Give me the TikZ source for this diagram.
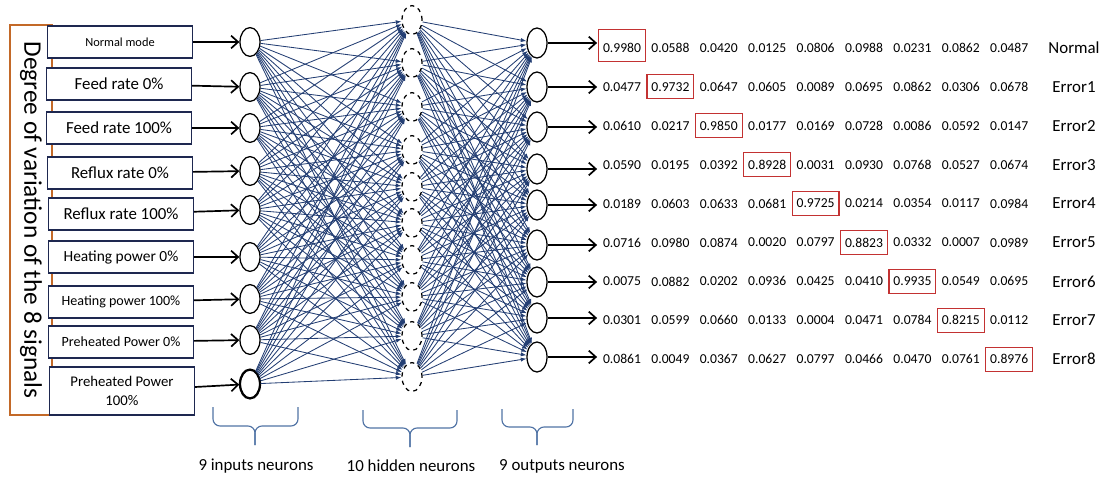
\documentclass[tikz,border=0pt]{standalone}
\usepackage{fontspec}
\setmainfont{Carlito}
\usetikzlibrary{arrows.meta, positioning, shapes.geometric}
\usepackage{xcolor}
\definecolor{navy}{RGB}{30,40,80}
\definecolor{wireblue}{RGB}{35,62,115}
\definecolor{brick}{RGB}{195,50,50}
\definecolor{rust}{RGB}{195,105,40}
\definecolor{steel}{RGB}{80,115,165}

\begin{document}
\begin{tikzpicture}[x=0.025cm, y=-0.025cm,
  sig/.style={draw=navy, line width=1.1pt, fill=white, minimum width=3.62cm,
  minimum height=0.8cm, inner sep=1pt, align=center},
  neuron/.style={draw, ellipse, line width=0.9pt, minimum width=0.5cm,
  minimum height=0.72cm, inner sep=0pt},
  hidden/.style={neuron, dashed},
  feed/.style={-{Straight Barb[length=5pt,width=9pt]}, line width=1.2pt},
  link/.style={-{Latex[length=4pt,width=3pt]}, wireblue, line width=0.6pt},
  val/.style={font=\fontsize{9.7}{11}\selectfont, inner sep=1pt},
  win/.style={draw=brick, line width=0.8pt, minimum width=1.17cm, minimum height=0.6cm},
  cls/.style={font=\fontsize{12}{14}\selectfont},
  brc/.style={steel, line width=0.8pt, rounded corners=5pt},
  layercap/.style={font=\fontsize{12}{14}\selectfont}
]
\useasboundingbox (0,0) rectangle (1104,479);

\node[draw=rust, line width=1.2pt, rotate=-90, minimum width=9.75cm, minimum height=1.05cm,
  font=\fontsize{18}{20}\selectfont] (frame) at (31,220) {Degree of variation of the 8 signals};

\node[sig, font=\fontsize{8.8}{10}\selectfont] (b1) at (120,42) {Normal mode};
\node[sig, font=\fontsize{12}{14}\selectfont] (b2) at (119,84) {Feed rate 0\%};
\node[sig, font=\fontsize{12}{14}\selectfont] (b3) at (119,128) {Feed rate 100\%};
\node[sig, font=\fontsize{12}{14}\selectfont] (b4) at (120,173) {Reflux rate 0\%};
\node[sig, font=\fontsize{12}{14}\selectfont] (b5) at (121,214) {Reflux rate 100\%};
\node[sig, font=\fontsize{11}{13}\selectfont] (b6) at (121,257) {Heating power 0\%};
\node[sig, font=\fontsize{10}{12}\selectfont] (b7) at (121,302) {Heating power 100\%};
\node[sig, font=\fontsize{10}{12}\selectfont] (b8) at (121,342) {Preheated Power 0\%};
\node[sig, font=\fontsize{10.5}{14}\selectfont, minimum height=1.2cm] (b9) at (122,391) {Preheated Power\\100\%};

\foreach \y [count=\i] in {42,87,128,171,210,257,299,340,384}
  \node[neuron] (in\i) at (250,\y) {};
\node[neuron, line width=1.6pt] at (in9) {};
\foreach \y [count=\j] in {20,63,107,150,187,223,260,297,336,377}
  \node[hidden] (hd\j) at (412,\y) {};
\foreach \y [count=\k] in {43,87,127,169,205,245,282,318,357}
  \node[neuron, minimum height=0.75cm] (out\k) at (537,\y) {};

\foreach \i in {1,...,9}
  \draw[feed] (b\i) -- (in\i);
\foreach \i in {1,...,9}
  \foreach \j in {1,...,10}
    \draw[link] (in\i) -- (hd\j);
\foreach \j in {1,...,10}
  \foreach \k in {1,...,9}
    \draw[link] (hd\j) -- (out\k);

\foreach \vals [count=\r] in {
  {0.9980,0.0588,0.0420,0.0125,0.0806,0.0988,0.0231,0.0862,0.0487},
  {0.0477,0.9732,0.0647,0.0605,0.0089,0.0695,0.0862,0.0306,0.0678},
  {0.0610,0.0217,0.9850,0.0177,0.0169,0.0728,0.0086,0.0592,0.0147},
  {0.0590,0.0195,0.0392,0.8928,0.0031,0.0930,0.0768,0.0527,0.0674},
  {0.0189,0.0603,0.0633,0.0681,0.9725,0.0214,0.0354,0.0117,0.0984},
  {0.0716,0.0980,0.0874,0.0020,0.0797,0.8823,0.0332,0.0007,0.0989},
  {0.0075,0.0882,0.0202,0.0936,0.0425,0.0410,0.9935,0.0549,0.0695},
  {0.0301,0.0599,0.0660,0.0133,0.0004,0.0471,0.0784,0.8215,0.0112},
  {0.0861,0.0049,0.0367,0.0627,0.0797,0.0466,0.0470,0.0761,0.8976}}
  \foreach \v [count=\c] in \vals
    \node[val] (v\r\c) at ({622+48.4*(\c-1)}, {48+38.9*(\r-1)}) {\v};

\node[win, minimum height=0.8cm] (w1) at ([yshift=2pt]v11) {};
\foreach \r in {2,...,9}
  \node[win] (w\r) at (v\r\r) {};

\foreach \lab [count=\r] in {Normal,Error1,Error2,Error3,Error4,Error5,Error6,Error7,Error8}
  \node[cls] (lab\r) at (1074, {48+38.9*(\r-1)}) {\lab};

\foreach \k in {1,...,9}
  \draw[feed, shorten >=3pt] (out\k) -- (out\k -| v\k1.west);

\draw[brc] (213,407) -- (213,426) -- (255,426) -- (255,445);
\draw[brc] (298,407) -- (298,426) -- (255,426) -- (255,445);
\draw[brc] (363,410) -- (363,428) -- (410,428) -- (410,447);
\draw[brc] (457,410) -- (457,428) -- (410,428) -- (410,447);
\draw[brc] (502,409) -- (502,427) -- (537,427) -- (537,445);
\draw[brc] (573,409) -- (573,427) -- (537,427) -- (537,445);

\node[layercap] (capin)  at (256,466) {9 inputs neurons};
\node[layercap] (caphid) at (411,466) {10 hidden neurons};
\node[layercap] (capout) at (562,466) {9 outputs neurons};
\end{tikzpicture}
\end{document}
